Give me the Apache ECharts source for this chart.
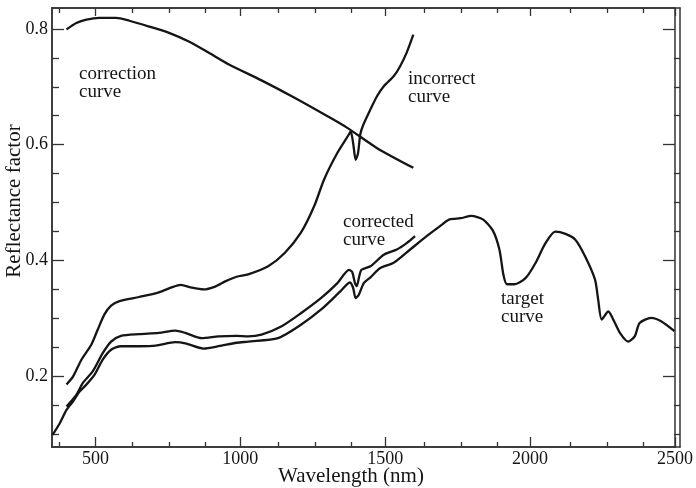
<!DOCTYPE html>
<html><head><meta charset="utf-8">
<script src="https://cdn.jsdelivr.net/npm/echarts@6/dist/echarts.min.js"></script>
<style>html,body{margin:0;padding:0;background:#fff}#c{width:696px;height:488px}</style>
</head><body><div id="c"></div>
<script>
// ---- data ----
const xTickLabels = [500, 1000, 1500, 2000, 2500];
const xMinorTicks = [375, 625, 750, 875, 1125, 1250, 1375, 1625, 1750, 1875, 2125, 2250, 2375];
const yTickLabels = [0.2, 0.4, 0.6, 0.8];
const yMinorTicks = [0.1, 0.15, 0.25, 0.3, 0.35, 0.45, 0.5, 0.55, 0.65, 0.7, 0.75];

const correctionNm  = [400, 434, 469, 514, 571, 617, 685, 754, 822, 890, 959, 1073, 1187, 1301, 1369, 1472, 1597];
const correctionVal = [0.799, 0.810, 0.816, 0.819, 0.819, 0.814, 0.804, 0.793, 0.778, 0.759, 0.739, 0.711, 0.681, 0.649, 0.629, 0.594, 0.560];

const incorrectNm  = [400, 423, 452, 486, 508, 531, 554, 583, 651, 719, 765, 794, 833, 873, 913, 948, 987, 1027, 1096, 1153, 1209, 1255, 1289, 1335, 1375, 1381, 1390, 1398, 1406, 1414, 1424, 1449, 1472, 1495, 1529, 1551, 1574, 1597];
const incorrectVal = [0.186, 0.200, 0.229, 0.255, 0.281, 0.307, 0.322, 0.330, 0.337, 0.345, 0.354, 0.358, 0.353, 0.350, 0.355, 0.364, 0.372, 0.376, 0.390, 0.413, 0.448, 0.494, 0.540, 0.586, 0.618, 0.623, 0.600, 0.574, 0.585, 0.618, 0.634, 0.661, 0.684, 0.701, 0.718, 0.735, 0.759, 0.790];

const correctedNm  = [400, 434, 457, 491, 525, 554, 588, 651, 719, 776, 810, 867, 925, 987, 1027, 1073, 1141, 1209, 1278, 1335, 1375, 1386, 1395, 1402, 1410, 1418, 1449, 1495, 1540, 1574, 1603];
const correctedVal = [0.148, 0.168, 0.189, 0.209, 0.240, 0.260, 0.270, 0.273, 0.275, 0.279, 0.275, 0.266, 0.269, 0.270, 0.269, 0.272, 0.286, 0.309, 0.335, 0.361, 0.384, 0.380, 0.362, 0.356, 0.372, 0.384, 0.390, 0.410, 0.419, 0.430, 0.442];

const targetNm  = [352, 377, 400, 423, 446, 469, 497, 525, 554, 588, 651, 708, 776, 810, 873, 925, 987, 1027, 1130, 1209, 1278, 1346, 1378, 1389, 1398, 1409, 1426, 1449, 1483, 1529, 1586, 1643, 1688, 1722, 1760, 1797, 1837, 1871, 1894, 1908, 1920, 1945, 1985, 2019, 2053, 2087, 2122, 2156, 2190, 2224, 2235, 2247, 2270, 2287, 2310, 2338, 2361, 2378, 2418, 2452, 2498];
const targetVal = [0.099, 0.119, 0.142, 0.157, 0.174, 0.186, 0.203, 0.229, 0.246, 0.252, 0.252, 0.253, 0.259, 0.257, 0.248, 0.252, 0.258, 0.260, 0.266, 0.289, 0.315, 0.347, 0.362, 0.353, 0.335, 0.341, 0.361, 0.371, 0.387, 0.396, 0.419, 0.442, 0.459, 0.471, 0.473, 0.477, 0.471, 0.452, 0.419, 0.375, 0.359, 0.359, 0.370, 0.396, 0.430, 0.450, 0.446, 0.436, 0.407, 0.367, 0.332, 0.298, 0.312, 0.298, 0.275, 0.260, 0.269, 0.292, 0.301, 0.295, 0.278];

const labels = [
  { text: 'correction\ncurve', x: 79, y: 83 },
  { text: 'incorrect\ncurve', x: 408, y: 88 },
  { text: 'corrected\ncurve', x: 343, y: 231 },
  { text: 'target\ncurve', x: 501, y: 308 }
];
// ---------------------------------------

const zip = (a, b) => a.map((v, i) => [v, b[i]]);
const FONT = '"Liberation Serif", "DejaVu Serif", serif';
const INK = '#151515';
const FRAME = '#333';
const gridBox = { left: 52, right: 16, top: 8, bottom: 41 };
const XMIN = 350, XMAX = 2500, YMIN = 0.078, YMAX = 0.836;

function xAx(grid, pos, ticks, len, withLabels) {
  return {
    type: 'value', gridIndex: grid, position: pos, min: XMIN, max: XMAX,
    axisLine: { show: true, onZero: false, lineStyle: { color: FRAME, width: 1.5 } },
    axisTick: { show: true, inside: true, length: len, customValues: ticks, lineStyle: { color: FRAME, width: 1.3 } },
    axisLabel: withLabels ? { show: true, customValues: xTickLabels, formatter: v => String(v), margin: 3, fontSize: 18, fontFamily: FONT, color: INK } : { show: false },
    splitLine: { show: false }
  };
}
function yAx(grid, pos, ticks, len, withLabels) {
  return {
    type: 'value', gridIndex: grid, position: pos, min: YMIN, max: YMAX,
    axisLine: { show: true, onZero: false, lineStyle: { color: FRAME, width: 1.5 } },
    axisTick: { show: true, inside: true, length: len, customValues: ticks, lineStyle: { color: FRAME, width: 1.3 } },
    axisLabel: withLabels ? { show: true, customValues: yTickLabels, formatter: v => String(+v.toFixed(2)), margin: 4, fontSize: 18, fontFamily: FONT, color: INK } : { show: false },
    splitLine: { show: false }
  };
}

const lineSeries = (data) => ({
  type: 'line', xAxisIndex: 0, yAxisIndex: 0, data, showSymbol: false, smooth: 0.25,
  lineStyle: { color: INK, width: 2.3 }, silent: true, animation: false
});

const chart = echarts.init(document.getElementById('c'));
chart.setOption({
  animation: false,
  grid: [Object.assign({}, gridBox), Object.assign({}, gridBox)],
  xAxis: [
    xAx(0, 'bottom', xTickLabels, 10, true),
    xAx(0, 'top', xTickLabels, 8, false),
    xAx(1, 'bottom', xMinorTicks, 5, false),
    xAx(1, 'top', xMinorTicks, 5, false)
  ],
  yAxis: [
    yAx(0, 'left', yTickLabels, 12, true),
    yAx(0, 'right', yTickLabels, 12, false),
    yAx(1, 'left', yMinorTicks, 7, false),
    yAx(1, 'right', yMinorTicks, 6, false)
  ],
  series: [
    lineSeries(zip(correctionNm, correctionVal)),
    lineSeries(zip(incorrectNm, incorrectVal)),
    lineSeries(zip(correctedNm, correctedVal)),
    lineSeries(zip(targetNm, targetVal))
  ],
  graphic: [
    { type: 'text', x: 14, y: 201, rotation: Math.PI / 2,
      style: { text: 'Reflectance factor', font: '21px ' + FONT, fill: INK, align: 'center', verticalAlign: 'middle' } },
    { type: 'text', x: 351, y: 476,
      style: { text: 'Wavelength (nm)', font: '21px ' + FONT, fill: INK, align: 'center', verticalAlign: 'middle' } }
  ].concat(labels.map(l => ({
    type: 'text', x: l.x, y: l.y,
    style: { text: l.text, font: '19px ' + FONT, lineHeight: 18, fill: INK, align: 'left', verticalAlign: 'middle' }
  })))
});
</script></body></html>
